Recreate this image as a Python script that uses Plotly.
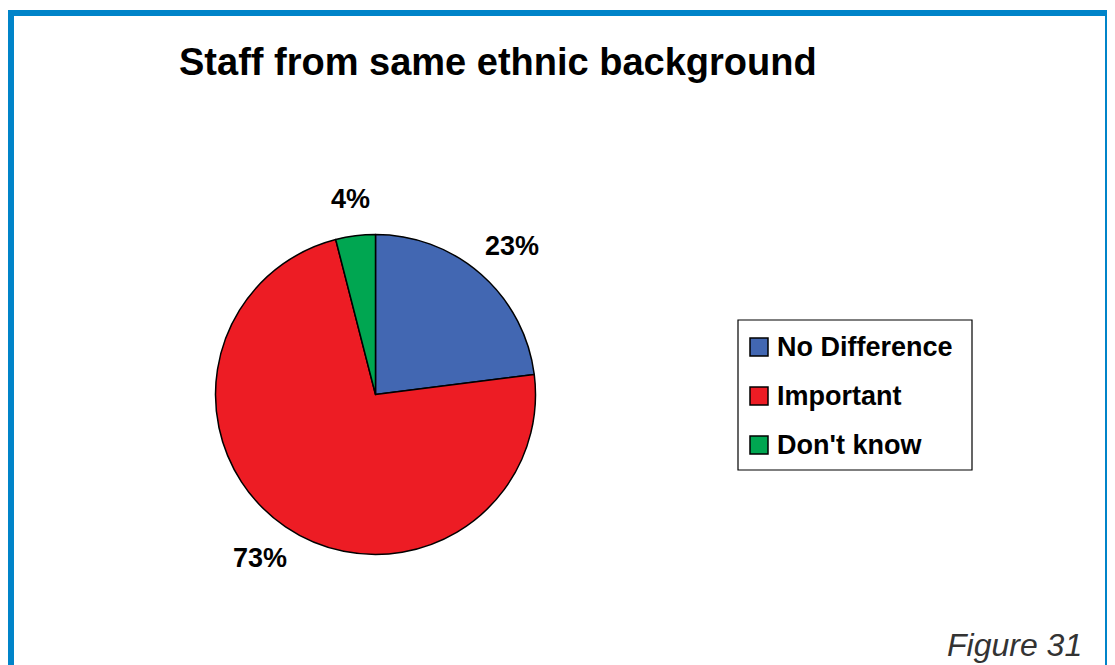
import math
import plotly.graph_objects as go

# ---- data ----
categories = ["No Difference", "Important", "Don't know"]
values = [23, 73, 4]
colors = ["#4267B2", "#ED1C24", "#00A651"]
title_text = "Staff from same ethnic background"
figure_label = "Figure 31"

# ---- layout constants (pixels, in the reference picture's frame) ----
OFF = 8                      # page margin the browser puts around the figure
W, H = 1115 - OFF, 665 - OFF
CX, CY, R = 375.5, 394.5, 160


def px(x):
    return (x - OFF) / W


def py(y):
    return 1 - (y - OFF) / H


fig = go.Figure()
fig.add_trace(go.Pie(
    labels=categories,
    values=values,
    marker=dict(colors=colors, line=dict(color="black", width=1.5)),
    sort=False,
    direction="clockwise",
    rotation=0,
    textinfo="none",
    hoverinfo="label+percent",
    showlegend=False,
    domain=dict(x=[px(CX - R), px(CX + R)], y=[py(CY + R), py(CY - R)]),
))

shapes = []
annotations = []

# percentage labels positioned around the pie from the cumulative values
total = sum(values)
cum = 0
LABEL_FONT = 27
GAP = 24
for v in values:
    mid = (cum + v / 2) / total * 2 * math.pi
    cum += v
    ux, uy = math.sin(mid), math.cos(mid)
    txt = f"{round(v / total * 100)}%"
    w = 0.55 * LABEL_FONT * len(txt)
    h = LABEL_FONT
    dx = (R + GAP) * ux + (w / 2) * ux
    dy = (R + GAP) * uy + (h / 2) * uy
    annotations.append(dict(
        x=px(CX + dx), y=py(CY - dy), xref="paper", yref="paper",
        text=f"<b>{txt}</b>", showarrow=False, xanchor="center", yanchor="middle",
        font=dict(family="Liberation Sans, Arial, sans-serif", size=LABEL_FONT, color="black"),
    ))

# custom legend box
LX0, LY0, LX1, LY1 = 738, 320, 972, 470
shapes.append(dict(type="rect", xref="paper", yref="paper",
                   x0=px(LX0), x1=px(LX1), y0=py(LY1), y1=py(LY0),
                   line=dict(color="black", width=1.2), fillcolor="white"))
row_y = [347, 396, 445]
for cat, col, ry in zip(categories, colors, row_y):
    shapes.append(dict(type="rect", xref="paper", yref="paper",
                       x0=px(750), x1=px(768), y0=py(ry + 9), y1=py(ry - 9),
                       line=dict(color="black", width=1.5), fillcolor=col))
    annotations.append(dict(
        x=px(775), y=py(ry), xref="paper", yref="paper", text=f"<b>{cat}</b>",
        showarrow=False, xanchor="left", yanchor="middle",
        font=dict(family="Liberation Sans, Arial, sans-serif", size=27, color="black"),
    ))

# title
annotations.append(dict(
    x=px(498), y=py(62), xref="paper", yref="paper", text=f"<b>{title_text}</b>",
    showarrow=False, xanchor="center", yanchor="middle",
    font=dict(family="Liberation Sans, Arial, sans-serif", size=38, color="black"),
))

# figure label
annotations.append(dict(
    x=px(1084), y=py(645), xref="paper", yref="paper", text=f"<i>{figure_label}</i>",
    showarrow=False, xanchor="right", yanchor="middle",
    font=dict(family="Liberation Sans, Arial, sans-serif", size=32, color="#333333"),
))

# blue frame (open at the bottom)
frame = "#0084C9"
shapes.append(dict(type="line", xref="paper", yref="paper", x0=px(11), x1=px(11),
                   y0=py(665 + 10), y1=py(10), line=dict(color=frame, width=6)))
shapes.append(dict(type="line", xref="paper", yref="paper", x0=px(8), x1=px(1111),
                   y0=py(13), y1=py(13), line=dict(color=frame, width=6)))
shapes.append(dict(type="line", xref="paper", yref="paper", x0=px(1108), x1=px(1108),
                   y0=py(665 + 10), y1=py(10), line=dict(color=frame, width=6)))

fig.update_layout(
    width=W, height=H,
    margin=dict(l=0, r=0, t=0, b=0),
    paper_bgcolor="white",
    plot_bgcolor="white",
    shapes=shapes,
    annotations=annotations,
)

fig.write_html("out.html")
